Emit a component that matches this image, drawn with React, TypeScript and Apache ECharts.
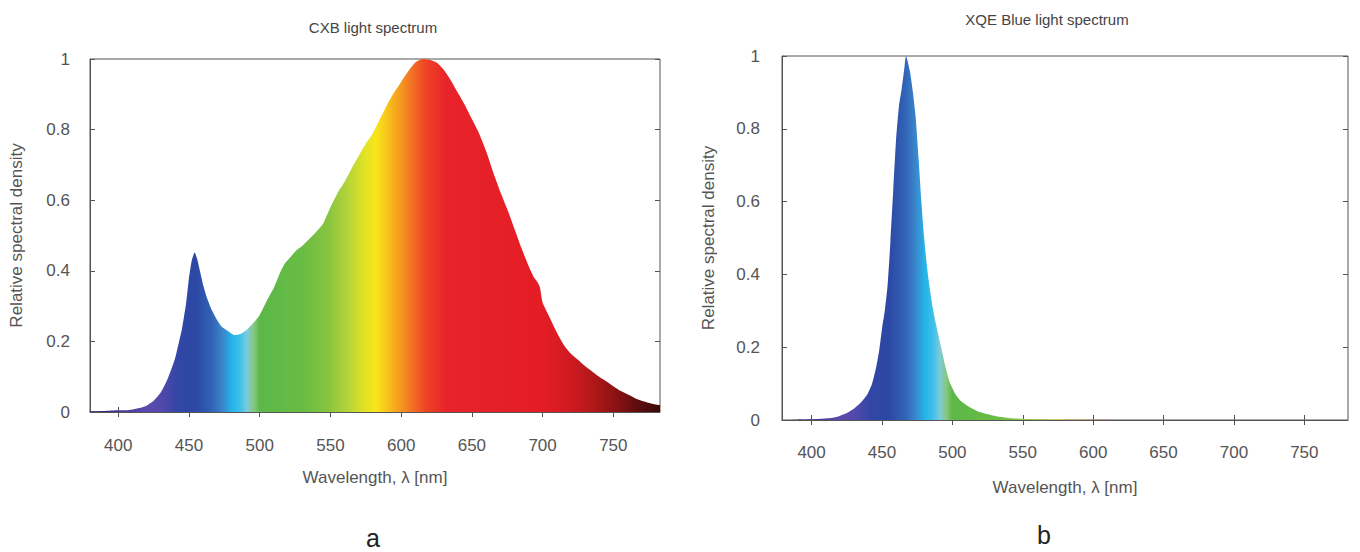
import React, { useEffect, useRef } from "react";
import * as echarts from "echarts";

// ---------- data ----------
const WAVELENGTH_TICKS = [400, 450, 500, 550, 600, 650, 700, 750];

const CXB_WAVELENGTH = [
  380, 390, 400, 405, 410, 415, 420, 425, 430, 435, 440, 443, 445, 448, 450, 452, 454, 456, 458, 460,
  463, 466, 470, 473, 478, 482, 486, 490, 495, 500, 505, 510, 515, 518, 522, 526, 530, 535, 541, 545,
  550, 555, 560, 565, 570, 575, 580, 585, 590, 595, 600, 605, 610, 615, 620, 625, 630, 635, 640, 645,
  650, 655, 660, 665, 670, 675, 680, 685, 690, 694, 696, 698, 700, 705, 710, 715, 720, 725, 730, 735,
  740, 745, 750, 755, 760, 765, 770, 775, 780, 783,
];
const CXB_DENSITY = [
  0.002, 0.003, 0.005, 0.005, 0.007, 0.011, 0.018, 0.032, 0.055, 0.095, 0.15, 0.2, 0.235, 0.31, 0.38, 0.43, 0.452, 0.43, 0.395, 0.36,
  0.32, 0.29, 0.26, 0.242, 0.228, 0.218, 0.22, 0.23, 0.25, 0.275, 0.315, 0.352, 0.4, 0.422, 0.44, 0.458, 0.47, 0.49, 0.515, 0.535,
  0.58, 0.62, 0.652, 0.69, 0.726, 0.76, 0.79, 0.83, 0.87, 0.905, 0.935, 0.965, 0.99, 1.0, 0.998, 0.99, 0.97, 0.94, 0.905, 0.87,
  0.83, 0.79, 0.74, 0.68, 0.625, 0.575, 0.52, 0.465, 0.415, 0.38, 0.37, 0.355, 0.31, 0.268, 0.226, 0.19, 0.165, 0.148, 0.13, 0.115,
  0.1, 0.087, 0.073, 0.06, 0.05, 0.04, 0.032, 0.026, 0.021, 0.019,
];

const XQE_WAVELENGTH = [
  379, 390, 400, 410, 415, 420, 425, 430, 435, 440, 443, 446, 448, 450, 452, 454, 456, 458, 460, 462,
  464, 466, 467, 468, 470, 472, 474, 476, 478, 480, 482, 484, 486, 488, 490, 492, 495, 498, 502, 506,
  512, 520, 527, 535, 541, 550, 570, 600, 620, 781,
];
const XQE_DENSITY = [
  0, 0.001, 0.002, 0.004, 0.006, 0.011, 0.019, 0.031, 0.048, 0.073, 0.1, 0.147, 0.19, 0.25, 0.3, 0.37, 0.49, 0.63, 0.77, 0.86,
  0.91, 0.97, 1.0, 0.99, 0.955, 0.9, 0.83, 0.72, 0.6, 0.5, 0.42, 0.36, 0.31, 0.27, 0.235, 0.2, 0.148, 0.105, 0.072, 0.052,
  0.036, 0.021, 0.014, 0.008, 0.005, 0.003, 0.0015, 0.0005, 0, 0,
];

// spectrum colour map (wavelength -> colour)
const SPECTRUM_STOPS: [number, string][] = [
  [380, "#2b1b6e"],
  [400, "#45349a"],
  [420, "#5b4aae"],
  [432, "#4f48aa"],
  [442, "#3246a6"],
  [455, "#2c48a4"],
  [466, "#3162b6"],
  [474, "#3a86cc"],
  [480, "#25b2e8"],
  [486, "#3cc0ea"],
  [491, "#7ccbdc"],
  [496, "#86c77a"],
  [500, "#5cb848"],
  [530, "#68bc44"],
  [548, "#86c43e"],
  [562, "#b4d43a"],
  [575, "#e4e324"],
  [582, "#f8e61a"],
  [590, "#f8c41c"],
  [598, "#f6a01e"],
  [607, "#f27424"],
  [618, "#ee4224"],
  [632, "#e8232a"],
  [700, "#e41d25"],
  [718, "#d21b22"],
  [735, "#b31819"],
  [752, "#8a1214"],
  [768, "#5c0c0e"],
  [783, "#3a0808"],
];

const FONT = "'Liberation Sans', Arial, sans-serif";
const AXIS_COLOR = "#555";
const LABEL_COLOR = "#555";

function spectrumGradient(min: number, max: number) {
  const stops = SPECTRUM_STOPS.map(([w, c]) => ({
    offset: Math.min(1, Math.max(0, (w - min) / (max - min))),
    color: c,
  }));
  return new echarts.graphic.LinearGradient(0, 0, 1, 0, stops);
}

function pairs(xs: number[], ys: number[]) {
  return xs.map((x, i) => [x, ys[i]]);
}

export default function App() {
  const ref = useRef<HTMLDivElement>(null);

  useEffect(() => {
    document.body.style.margin = "0";
    if (!ref.current) return;
    const chart = echarts.init(ref.current, undefined, { renderer: "svg" });

    const grids = [
      { left: 90, top: 59, width: 570, height: 353, min: 380, max: 783, labelMargin: 25, nameGap: 57, yLabelMargin: 20 },
      { left: 782, top: 56, width: 566, height: 364, min: 379, max: 781, labelMargin: 24, nameGap: 59, yLabelMargin: 22 },
    ];

    const xAxes: any[] = [];
    const yAxes: any[] = [];
    grids.forEach((g, gi) => {
      xAxes.push({
        gridIndex: gi,
        type: "value",
        position: "bottom",
        min: g.min,
        max: g.max,
        axisLine: { show: true, lineStyle: { color: AXIS_COLOR, width: 1 } },
        axisTick: { show: true, inside: true, length: 5, customValues: WAVELENGTH_TICKS, lineStyle: { color: AXIS_COLOR } },
        axisLabel: { show: true, customValues: WAVELENGTH_TICKS, margin: g.labelMargin, fontSize: 17, color: LABEL_COLOR, fontFamily: FONT },
        splitLine: { show: false },
        name: "Wavelength, λ [nm]",
        nameLocation: "middle",
        nameGap: g.nameGap,
        nameTextStyle: { fontSize: 17, color: LABEL_COLOR, fontFamily: FONT },
      });
      xAxes.push({
        gridIndex: gi,
        type: "value",
        position: "top",
        min: g.min,
        max: g.max,
        axisLine: { show: false },
        axisTick: { show: true, inside: true, length: 5, customValues: WAVELENGTH_TICKS, lineStyle: { color: AXIS_COLOR } },
        axisLabel: { show: false },
        splitLine: { show: false },
      });
      yAxes.push({
        gridIndex: gi,
        type: "value",
        position: "left",
        min: 0,
        max: 1,
        interval: 0.2,
        axisLine: { show: true, lineStyle: { color: AXIS_COLOR, width: 1 } },
        axisTick: { show: true, inside: true, length: 5, lineStyle: { color: AXIS_COLOR } },
        axisLabel: { show: true, margin: g.yLabelMargin, fontSize: 17, color: LABEL_COLOR, fontFamily: FONT },
        splitLine: { show: false },
        name: "Relative spectral density",
        nameLocation: "middle",
        nameRotate: 90,
        nameGap: 65,
        nameTextStyle: { fontSize: 17, color: LABEL_COLOR, fontFamily: FONT },
      });
      yAxes.push({
        gridIndex: gi,
        type: "value",
        position: "right",
        min: 0,
        max: 1,
        interval: 0.2,
        axisLine: { show: false },
        axisTick: { show: true, inside: true, length: 5, lineStyle: { color: AXIS_COLOR } },
        axisLabel: { show: false },
        splitLine: { show: false },
      });
    });

    const option: any = {
      animation: false,
      backgroundColor: "#ffffff",
      grid: grids.map((g) => ({
        left: g.left,
        top: g.top,
        width: g.width,
        height: g.height,
        show: true,
        borderColor: AXIS_COLOR,
        borderWidth: 1,
        backgroundColor: "transparent",
        containLabel: false,
      })),
      xAxis: xAxes,
      yAxis: yAxes,
      series: [
        {
          name: "CXB",
          type: "line",
          xAxisIndex: 0,
          yAxisIndex: 0,
          data: pairs(CXB_WAVELENGTH, CXB_DENSITY),
          showSymbol: false,
          symbol: "none",
          silent: true,
          smooth: 0.2,
          lineStyle: { width: 0, opacity: 0 },
          areaStyle: { color: spectrumGradient(grids[0].min, grids[0].max), opacity: 1 },
        },
        {
          name: "XQE Blue",
          type: "line",
          xAxisIndex: 2,
          yAxisIndex: 2,
          data: pairs(XQE_WAVELENGTH, XQE_DENSITY),
          showSymbol: false,
          symbol: "none",
          silent: true,
          smooth: 0.2,
          lineStyle: { width: 0, opacity: 0 },
          areaStyle: { color: spectrumGradient(grids[1].min, grids[1].max), opacity: 1 },
        },
      ],
      graphic: [
        {
          type: "text",
          x: 373,
          y: 27,
          style: { text: "CXB light spectrum", fontSize: 15, fill: "#444", align: "center", verticalAlign: "middle", fontFamily: FONT },
        },
        {
          type: "text",
          x: 1047,
          y: 19,
          style: { text: "XQE Blue light spectrum", fontSize: 15, fill: "#444", align: "center", verticalAlign: "middle", fontFamily: FONT },
        },
        {
          type: "text",
          x: 373,
          y: 538,
          style: { text: "a", fontSize: 25, fill: "#222", align: "center", verticalAlign: "middle", fontFamily: FONT },
        },
        {
          type: "text",
          x: 1044,
          y: 535,
          style: { text: "b", fontSize: 25, fill: "#222", align: "center", verticalAlign: "middle", fontFamily: FONT },
        },
      ],
    };

    chart.setOption(option);
    return () => {
      chart.dispose();
    };
  }, []);

  return <div ref={ref} style={{ width: 1360, height: 552 }} />;
}
